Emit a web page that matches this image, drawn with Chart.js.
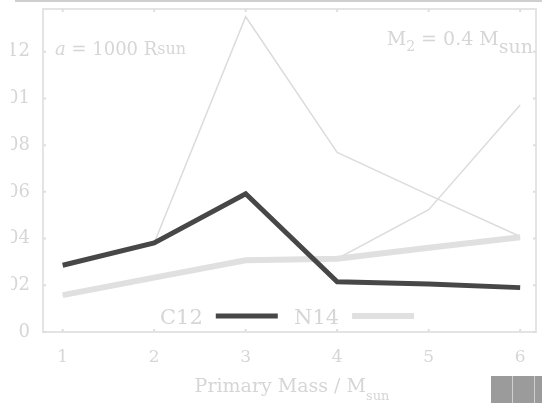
<!DOCTYPE html>
<html>
<head>
<meta charset="utf-8">
<script src="https://cdn.jsdelivr.net/npm/chart.js@4"></script>
<style>
html, body { margin: 0; padding: 0; background: #fff; }
#wrap { position: relative; width: 542px; height: 403px; overflow: hidden; }
#mask { position: absolute; left: 0; top: 0; width: 11px; height: 403px; background: #fff; }
#badge { position: absolute; left: 491px; top: 376px; width: 51px; height: 27px; background: #9b9b9b; }
#badge i { position: absolute; top: 0; bottom: 0; width: 1px; background: #cfcfcf; }
</style>
</head>
<body>
<div id="wrap">
  <canvas id="chart" width="542" height="403"></canvas>
  <div id="mask"></div>
  <div id="badge"><i style="left:21px"></i><i style="left:43px"></i></div>
</div>
<script>
// valeurs
const masses = [1, 2, 3, 4, 5, 6];
const c12 = [0.00286, 0.00381, 0.00592, 0.00215, 0.00205, 0.0019];
const n14 = [0.00158, 0.00233, 0.00307, 0.00314, 0.00361, 0.00406];
const c12Alt = [0.00286, 0.00381, 0.0135, 0.00769, 0.00587, 0.00409];
const n14Alt = [0.00158, 0.00233, 0.00307, 0.00314, 0.00524, 0.00972];
const xTicks = [1, 2, 3, 4, 5, 6];
const yTicks = [0, 0.002, 0.004, 0.006, 0.008, 0.01, 0.012];

const textColor = '#d6d6d6';
const serif = '"DejaVu Serif", "Liberation Serif", serif';

function pts(values) {
    return masses.map((m, i) => ({ x: m, y: values[i] }));
}

// texte en morceaux (indices sun, 2)
function richText(ctx, parts, x, y, align) {
    let w = 0;
    parts.forEach(p => {
        ctx.font = (p.it ? 'italic ' : '') + p.s + 'px ' + serif;
        p.w = ctx.measureText(p.t).width;
        w += p.w;
    });
    let cx = align === 'right' ? x - w : (align === 'center' ? x - w / 2 : x);
    ctx.fillStyle = textColor;
    ctx.textAlign = 'left';
    ctx.textBaseline = 'alphabetic';
    parts.forEach(p => {
        ctx.font = (p.it ? 'italic ' : '') + p.s + 'px ' + serif;
        ctx.fillText(p.t, cx, y + (p.dy || 0));
        cx += p.w;
    });
}

const decor = {
    id: 'decor',
    afterDraw(chart) {
        const ctx = chart.ctx;
        const a = chart.chartArea;
        const sx = chart.scales.x, sy = chart.scales.y;
        ctx.save();
        // ligne du haut
        ctx.strokeStyle = '#cfcfcf';
        ctx.lineWidth = 2;
        ctx.beginPath();
        ctx.moveTo(15, 1); ctx.lineTo(542, 1);
        ctx.stroke();
        // cadre
        ctx.strokeStyle = '#e4e4e4';
        ctx.lineWidth = 2;
        ctx.strokeRect(a.left, a.top, a.right - a.left, a.bottom - a.top);
        // petites graduations vers l'intérieur
        ctx.strokeStyle = '#dedede';
        ctx.beginPath();
        xTicks.forEach(v => {
            const px = sx.getPixelForValue(v);
            ctx.moveTo(px, a.bottom); ctx.lineTo(px, a.bottom - 3);
            ctx.moveTo(px, a.top); ctx.lineTo(px, a.top + 3);
        });
        yTicks.forEach(v => {
            const py = sy.getPixelForValue(v);
            ctx.moveTo(a.left, py); ctx.lineTo(a.left + 3, py);
            ctx.moveTo(a.right, py); ctx.lineTo(a.right - 3, py);
        });
        ctx.stroke();

        // légende
        const ds = chart.data.datasets;
        [[ds[0], 160], [ds[1], 294]].forEach(([d, x]) => {
            ctx.font = '21px ' + serif;
            ctx.fillStyle = textColor;
            ctx.textAlign = 'left';
            ctx.textBaseline = 'alphabetic';
            ctx.fillText(d.label, x, 324);
            const tw = ctx.measureText(d.label).width;
            ctx.strokeStyle = d.borderColor;
            ctx.lineWidth = d.borderWidth;
            ctx.beginPath();
            ctx.moveTo(x + tw + 13, 316);
            ctx.lineTo(x + tw + 75, 316);
            ctx.stroke();
        });

        // annotations
        richText(ctx, [{ t: 'a', it: true, s: 18 }, { t: ' = 1000 R', s: 18 }, { t: 'sun', s: 16, dy: -1 }], 55, 55, 'left');
        richText(ctx, [{ t: 'M', s: 19 }, { t: '2', s: 14, dy: 6 }, { t: ' = 0.4 M', s: 19 }, { t: 'sun', s: 19, dy: 8 }], 533, 45, 'right');
        // titre de l'axe x
        richText(ctx, [{ t: 'Primary Mass / M', s: 19 }, { t: 'sun', s: 13, dy: 8 }], 292, 392, 'center');
        ctx.restore();
    }
};

new Chart(document.getElementById('chart'), {
    type: 'line',
    data: {
        datasets: [
            { label: 'C12', data: pts(c12), borderColor: '#474747', borderWidth: 5, pointRadius: 0, tension: 0 },
            { label: 'N14', data: pts(n14), borderColor: '#e0e0e0', borderWidth: 6, pointRadius: 0, tension: 0 },
            { label: 'C12 b', data: pts(c12Alt), borderColor: '#dcdcdc', borderWidth: 1.5, pointRadius: 0, tension: 0 },
            { label: 'N14 b', data: pts(n14Alt), borderColor: '#dcdcdc', borderWidth: 1.5, pointRadius: 0, tension: 0 }
        ]
    },
    options: {
        responsive: false,
        animation: false,
        devicePixelRatio: 1,
        layout: { padding: { top: 9, right: 6, left: 0, bottom: 0 } },
        plugins: { legend: { display: false }, tooltip: { enabled: false } },
        scales: {
            x: {
                type: 'linear',
                min: 0.785,
                max: 6.173,
                afterBuildTicks: s => { s.ticks = xTicks.map(v => ({ value: v })); },
                afterFit: s => { s.height = 71; s.paddingLeft = 0; s.paddingRight = 0; },
                grid: { display: false, drawTicks: false },
                border: { display: false },
                ticks: { color: textColor, font: { family: serif, size: 17 }, padding: 15, callback: v => String(v) }
            },
            y: {
                type: 'linear',
                min: 0,
                max: 0.01383,
                afterBuildTicks: s => { s.ticks = yTicks.map(v => ({ value: v })); },
                afterFit: s => { s.width = 43; s.paddingTop = 0; s.paddingBottom = 0; },
                grid: { display: false, drawTicks: false },
                border: { display: false },
                ticks: { color: textColor, font: { family: serif, size: 18 }, padding: 13, callback: v => String(v) }
            }
        }
    },
    plugins: [decor]
});
</script>
</body>
</html>
